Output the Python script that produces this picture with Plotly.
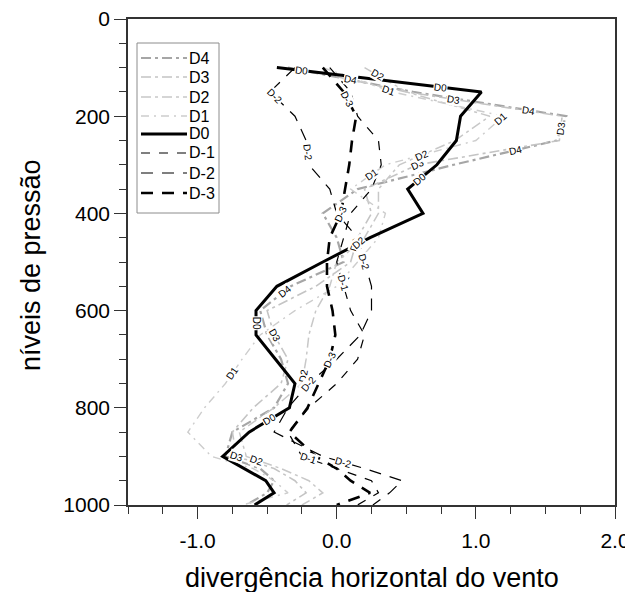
import numpy as np
import plotly.graph_objects as go

levels = [100, 150, 200, 250, 300, 350, 400, 450, 500, 550, 600, 650, 700,
          750, 800, 850, 900, 925, 950, 975, 1000]

d4 = [-0.35, 0.55, 1.65, 1.58, 0.84, 0.15, -0.10, 0.00, 0.05, -0.33, -0.55,
      -0.50, -0.40, -0.35, -0.45, -0.75, -0.80, -0.55, -0.45, -0.50, -0.65]
d3 = [-0.30, 0.50, 1.62, 1.60, 0.58, 0.20, 0.25, 0.15, 0.10, -0.15, -0.50,
      -0.45, -0.35, -0.40, -0.60, -0.75, -0.72, -0.45, -0.30, -0.22, -0.36]
d2 = [0.20, 0.50, 1.10, 0.85, 0.45, 0.30, 0.30, 0.20, 0.00, -0.05, -0.15,
      -0.20, -0.22, -0.25, -0.45, -0.70, -0.65, -0.40, -0.20, -0.10, -0.25]
d1 = [-0.10, 0.40, 1.20, 1.00, 0.35, 0.10, 0.35, 0.30, 0.15, 0.00, -0.30,
      -0.55, -0.68, -0.80, -0.95, -1.07, -0.90, -0.60, -0.45, -0.35, -0.68]
d0 = [-0.43, 1.04, 0.89, 0.86, 0.72, 0.51, 0.62, 0.24, -0.10, -0.43, -0.58,
      -0.58, -0.44, -0.30, -0.34, -0.63, -0.82, -0.66, -0.51, -0.45, -0.59]
dm1 = [-0.05, 0.10, 0.15, 0.30, 0.32, 0.25, 0.10, 0.05, 0.00, 0.05, 0.10,
       0.20, 0.15, 0.00, -0.20, -0.35, -0.25, 0.00, 0.25, 0.30, 0.15]
dm2 = [-0.30, -0.48, -0.30, -0.22, -0.20, -0.05, 0.00, 0.15, 0.20, 0.25, 0.25,
       0.17, 0.00, -0.20, -0.35, -0.45, -0.10, 0.20, 0.47, 0.38, 0.26]
dm3 = [-0.10, 0.05, 0.14, 0.11, 0.09, 0.06, 0.03, -0.05, -0.07, -0.07, -0.03,
       -0.01, -0.05, -0.13, -0.21, -0.34, -0.15, 0.00, 0.10, 0.24, 0.00]

names = ["D4", "D3", "D2", "D1", "D0", "D-1", "D-2", "D-3"]
values = [d4, d3, d2, d1, d0, dm1, dm2, dm3]

x_tick_vals = [-1.0, 0.0, 1.0, 2.0]
x_tick_text = ["-1.0", "0.0", "1.0", "2.0"]
y_tick_vals = [0, 200, 400, 600, 800, 1000]
y_tick_text = ["0", "200", "400", "600", "800", "1000"]

styles = {
    "D4": dict(color="#a6a6a6", width=2.2, dash="10px,4px,3px,4px"),
    "D3": dict(color="#c4c4c4", width=1.6, dash="10px,4px,3px,4px"),
    "D2": dict(color="#c8c8c8", width=1.5, dash="10px,4px,3px,4px"),
    "D1": dict(color="#cdcdcd", width=1.4, dash="8px,5px,2px,5px"),
    "D0": dict(color="black", width=3, dash="solid"),
    "D-1": dict(color="black", width=1.2, dash="9px,9px"),
    "D-2": dict(color="black", width=1.2, dash="12px,9px"),
    "D-3": dict(color="black", width=2.6, dash="12px,9px"),
}

# inline label positions as fractional indices along each curve
label_pos = {
    "D4": [0.5, 1.75, 3.4, 9.2],
    "D3": [1.3, 2.5, 4.0, 7.3, 11.0, 16.0],
    "D2": [0.3, 3.6, 7.2, 12.7, 16.3],
    "D1": [0.95, 2.1, 4.4, 8.7, 12.6],
    "D0": [0.12, 0.8, 4.6, 10.5, 14.5],
    "D-1": [8.9, 16.2],
    "D-2": [1.2, 3.5, 8.0, 13.0, 16.5],
    "D-3": [1.3, 6.0, 12.0],
}

# page is rendered with an 8px body margin
BODY = 8
PW, PH = 633, 592
# plot area in page pixels
X0, X1 = 128, 615
Y0, Y1 = 19, 505
W = PW - BODY
H = PH - BODY


def px(xp):
    return (xp - X0) / (X1 - X0)


def py(yp):
    return (Y1 - yp) / (Y1 - Y0)


fig = go.Figure()
for nm, vals in zip(names, values):
    st = styles[nm]
    fig.add_trace(go.Scatter(
        x=vals, y=levels, mode="lines", name=nm, showlegend=False,
        line=dict(color=st["color"], width=st["width"], dash=st["dash"]),
    ))

sx = (X1 - X0) / 3.5
sy = (Y1 - Y0) / 1000.0
idx = np.arange(len(levels))
annotations = []
for nm, vals in zip(names, values):
    for f in label_pos[nm]:
        i = min(int(np.floor(f)), len(levels) - 2)
        xv = float(np.interp(f, idx, vals))
        yv = float(np.interp(f, idx, levels))
        dx = (vals[i + 1] - vals[i]) * sx
        dy = (levels[i + 1] - levels[i]) * sy
        ang = np.degrees(np.arctan2(dy, dx))
        if ang > 90:
            ang -= 180
        if ang < -90:
            ang += 180
        annotations.append(dict(
            x=xv, y=yv, text=nm, showarrow=False, textangle=float(ang),
            font=dict(family="Liberation Sans", size=10, color="black"),
            bgcolor="white", borderpad=0,
        ))

# custom legend (box, line samples, labels)
shapes = [dict(type="rect", xref="paper", yref="paper",
               x0=px(137), x1=px(219), y0=py(213), y1=py(43),
               line=dict(color="#8c8c8c", width=1), fillcolor="white", layer="above")]
leg_y = [58, 77, 97, 116, 134, 153, 173, 193]
for nm, yy in zip(names, leg_y):
    st = styles[nm]
    shapes.append(dict(type="line", xref="paper", yref="paper",
                       x0=px(141), x1=px(187), y0=py(yy), y1=py(yy),
                       line=dict(color=st["color"], width=st["width"], dash=st["dash"]),
                       layer="above"))
    annotations.append(dict(xref="paper", yref="paper", x=px(187), y=py(yy),
                            text=nm, showarrow=False, xanchor="left", yanchor="middle",
                            font=dict(family="Liberation Sans", size=16, color="black")))

# axis titles
annotations.append(dict(xref="paper", yref="paper", x=px(372), y=py(578),
                        text="divergência horizontal do vento", showarrow=False,
                        xanchor="center", yanchor="middle",
                        font=dict(family="Liberation Sans", size=27, color="black")))
annotations.append(dict(xref="paper", yref="paper", x=px(31), y=py(265),
                        text="níveis de pressão", showarrow=False, textangle=-90,
                        xanchor="center", yanchor="middle",
                        font=dict(family="Liberation Sans", size=27, color="black")))

fig.update_layout(
    width=W, height=H,
    margin=dict(l=X0 - BODY, r=PW - X1, t=Y0 - BODY, b=PH - Y1, autoexpand=False),
    plot_bgcolor="white", paper_bgcolor="white",
    font=dict(family="Liberation Sans", color="black"),
    showlegend=False,
    annotations=annotations, shapes=shapes,
)
fig.update_xaxes(
    range=[-1.5, 2.0], tickvals=x_tick_vals, ticktext=x_tick_text,
    ticks="outside", ticklen=12, tickwidth=1.2, tickcolor="#333",
    minor=dict(dtick=0.25, tick0=0, ticks="outside", ticklen=7, tickcolor="#333", showgrid=False),
    showline=True, linecolor="#333", linewidth=1.5, mirror=True,
    showgrid=False, zeroline=False, automargin=False,
    tickfont=dict(size=21), ticklabelstandoff=4, ticklabeloverflow="allow",
)
fig.update_yaxes(
    range=[1000, -0.01], tickvals=y_tick_vals, ticktext=y_tick_text,
    ticks="outside", ticklen=12, tickwidth=1.2, tickcolor="#333",
    minor=dict(dtick=50, tick0=0, ticks="outside", ticklen=7, tickcolor="#333", showgrid=False),
    showline=True, linecolor="#333", linewidth=1.5, mirror=True,
    showgrid=False, zeroline=False, automargin=False,
    tickfont=dict(size=21), ticklabeloverflow="allow",
)

fig.write_html("out.html")
